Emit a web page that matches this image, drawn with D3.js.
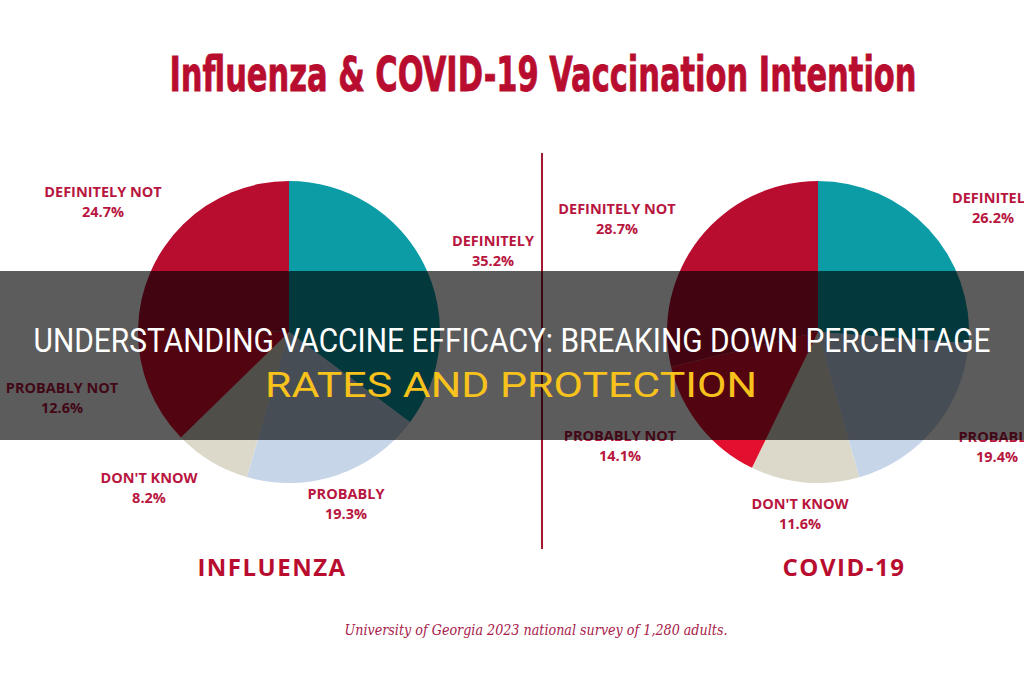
<!DOCTYPE html>
<html>
<head>
<meta charset="utf-8">
<script src="https://cdn.jsdelivr.net/npm/d3@7"></script>
<style>
  html, body { margin: 0; padding: 0; background: #ffffff; }
  svg { display: block; }
</style>
</head>
<body>
<svg id="chart" width="1024" height="680"></svg>
<script>
// ---- data ----
const categories = ["DEFINITELY", "PROBABLY", "DON'T KNOW", "PROBABLY NOT", "DEFINITELY NOT"];
const influenzaValues = [35.2, 19.3, 8.2, 12.6, 24.7];
const covidValues = [26.2, 19.4, 11.6, 14.1, 28.7];
const chartNames = ["INFLUENZA", "COVID-19"];
const titleText = "Influenza & COVID-19 Vaccination Intention";
const sourceText = "University of Georgia 2023 national survey of 1,280 adults.";
const bannerLine1 = "UNDERSTANDING VACCINE EFFICACY: BREAKING DOWN PERCENTAGE";
const bannerLine2 = "RATES AND PROTECTION";

// ---- styles / layout ----
const sliceColors = ["#0b9ca6", "#c6d6e8", "#dcd9ca", "#e20f2f", "#b80d2f"];
const labelColor = "#b8163f";
const red = "#b80d2f";

// label anchor offsets relative to each pie centre (layout only)
const labelOffsets = [
  [[204, -86], [57, 167], [-140, 151], [-227, 61], [-186, -135]],
  [[175, -129], [179, 110], [-18, 177], [-198, 109], [-201, -118]]
];

const svg = d3.select("#chart");
const pies = [
  { name: chartNames[0], values: influenzaValues, cx: 289, cy: 332, labelX: 272 },
  { name: chartNames[1], values: covidValues, cx: 818, cy: 332, labelX: 844 }
];
const radius = 151;

svg.append("text")
  .attr("x", 543).attr("y", 91)
  .attr("text-anchor", "middle")
  .attr("font-family", "'Liberation Sans Narrow', 'DejaVu Sans Condensed', 'Liberation Sans', sans-serif")
  .attr("font-weight", 900)
  .attr("font-size", 48)
  .attr("fill", red)
  .attr("stroke", red).attr("stroke-width", 0.8)
  .attr("textLength", 747)
  .attr("lengthAdjust", "spacingAndGlyphs")
  .text(titleText);

// divider
svg.append("line")
  .attr("x1", 542).attr("x2", 542)
  .attr("y1", 153).attr("y2", 549)
  .attr("stroke", "#a3182e").attr("stroke-width", 2);

const pieGen = d3.pie().sort(null).value(d => d);
const arcGen = d3.arc().innerRadius(0).outerRadius(radius);

pies.forEach((p, pi) => {
  const g = svg.append("g").attr("transform", `translate(${p.cx},${p.cy})`);
  const arcs = pieGen(p.values);
  g.selectAll("path").data(arcs).enter().append("path")
    .attr("d", arcGen)
    .attr("fill", (d, i) => sliceColors[i]);

  arcs.forEach((a, i) => {
    const [dx, dy] = labelOffsets[pi][i];
    const t = g.append("text")
      .attr("text-anchor", "middle")
      .attr("font-family", "'Open Sans', 'Noto Sans', sans-serif")
      .attr("font-weight", "bold")
      .attr("font-size", 14.5)
      .attr("fill", labelColor);
    t.append("tspan").attr("x", dx).attr("y", dy).text(categories[i]);
    t.append("tspan").attr("x", dx).attr("y", dy + 20).text(d3.format(".1f")(p.values[i]) + "%");
  });

  svg.append("text")
    .attr("x", p.labelX).attr("y", 576)
    .attr("text-anchor", "middle")
    .attr("font-family", "'Open Sans', 'Noto Sans', sans-serif")
    .attr("font-weight", "bold")
    .attr("font-size", 24)
    .attr("letter-spacing", 1.5)
    .attr("fill", red)
    .text(p.name);
});

svg.append("text")
  .attr("x", 536).attr("y", 635)
  .attr("text-anchor", "middle")
  .attr("font-family", "'DejaVu Serif', 'Liberation Serif', serif")
  .attr("font-style", "italic")
  .attr("font-size", 14.5)
  .attr("fill", "#a8204a")
  .attr("textLength", 383)
  .attr("lengthAdjust", "spacingAndGlyphs")
  .text(sourceText);

// overlay banner
svg.append("rect")
  .attr("x", 0).attr("y", 271).attr("width", 1024).attr("height", 169)
  .attr("fill", "rgba(0,0,0,0.64)");

svg.append("text")
  .attr("x", 512).attr("y", 352)
  .attr("text-anchor", "middle")
  .attr("font-family", "Roboto, 'Liberation Sans', sans-serif")
  .attr("font-size", 34)
  .attr("fill", "#ffffff")
  .attr("textLength", 957)
  .attr("lengthAdjust", "spacingAndGlyphs")
  .text(bannerLine1);

svg.append("text")
  .attr("x", 511).attr("y", 397)
  .attr("text-anchor", "middle")
  .attr("font-family", "Roboto, 'Liberation Sans', sans-serif")
  .attr("font-size", 35)
  .attr("fill", "#f7c21c")
  .attr("textLength", 492)
  .attr("lengthAdjust", "spacingAndGlyphs")
  .text(bannerLine2);
</script>
</body>
</html>
